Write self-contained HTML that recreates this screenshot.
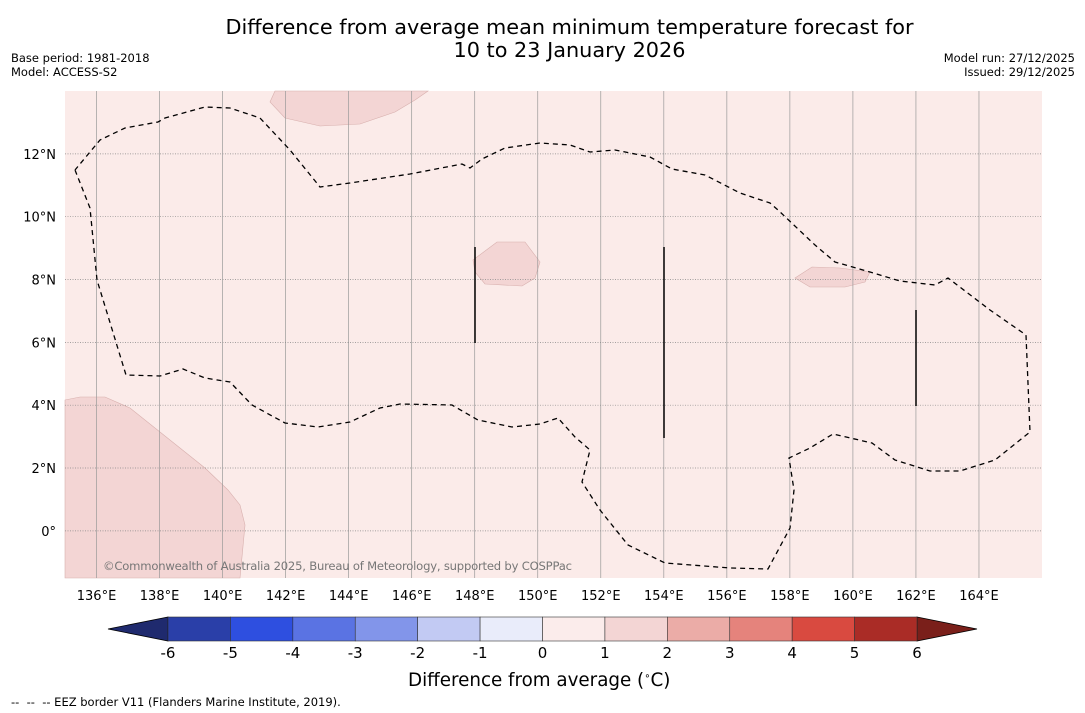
<!DOCTYPE html>
<html><head><meta charset="utf-8"><style>
body{margin:0;width:1085px;height:713px;background:#fff;font-family:"DejaVu Sans","Liberation Sans",sans-serif;overflow:hidden;position:relative}
.t{position:absolute;white-space:nowrap}
</style></head><body>
<div class="t" style="left:0;width:1139px;top:16px;text-align:center;font-size:20.8px;line-height:23px">Difference from average mean minimum temperature forecast for<br>10 to 23 January 2026</div>
<div class="t" style="left:11px;top:51px;font-size:11.5px;line-height:14px">Base period: 1981-2018<br>Model: ACCESS-S2</div>
<div class="t" style="right:10px;top:51px;font-size:11.5px;line-height:14px;text-align:right">Model run: 27/12/2025<br>Issued: 29/12/2025</div>
<svg id="s" width="1085" height="713" style="position:absolute;left:0;top:0"></svg>
<div class="t" style="left:408px;top:670px;font-size:18.3px">Difference from average (<sup style="font-size:10px">∘</sup>C)</div>
<div class="t" style="left:11px;top:695px;font-size:11.5px">-- &nbsp;-- &nbsp;-- EEZ border V11 (Flanders Marine Institute, 2019).</div>
<script>
const lonTicks=[136,138,140,142,144,146,148,150,152,154,156,158,160,162,164];
const latTicks=[0,2,4,6,8,10,12];
const cbBounds=[-6,-5,-4,-3,-2,-1,0,1,2,3,4,5,6];
const cbColors=["#2a3fa8","#2e4fe0","#5a73e3","#8295ea","#c2caf3","#e9ecfa","#fbeceb","#f3d5d4","#ebaca7","#e5837c","#d94a40","#aa2c26"];
const eez=[[75,170],[90,208],[97,280],[126,375],[160,376],[183,369],[205,378],[230,382],[252,405],[285,423],[318,427],[350,422],[380,408],[400,404],[452,405],[478,420],[512,427],[540,424],[558,418],[575,437],[590,450],[582,482],[600,510],[628,545],[665,563],[730,568],[768,569],[790,528],[794,490],[789,458],[810,448],[833,434],[872,443],[895,460],[930,471],[960,471],[995,460],[1030,432],[1026,335],[990,310],[948,278],[935,285],[900,281],[870,272],[835,262],[815,245],[778,210],[770,203],[740,193],[705,175],[672,169],[650,157],[615,150],[590,152],[570,145],[540,143],[505,148],[482,159],[470,168],[462,164],[410,174],[350,183],[320,187],[290,150],[260,118],[230,108],[205,107],[165,118],[158,122],[125,128],[100,140],[75,170]];
const patches=[
[[275,91],[270,102],[285,118],[320,126],[360,124],[395,112],[415,100],[428,91]],
[[65,400],[80,397],[105,397],[130,408],[170,440],[205,468],[228,490],[240,505],[245,525],[240,578],[65,578]],
[[473,260],[497,242],[525,242],[540,262],[535,278],[522,286],[485,284],[475,272]],
[[795,278],[812,267],[840,268],[870,272],[865,282],[845,287],[810,287]]];
const X0=65,X1=1042,Y0=91,Y1=578;
const xs=l=>X0+(l-135)/31*(X1-X0);
const ys=l=>Y0+(14-l)/15.5*(Y1-Y0);
const s=document.getElementById('s');const NS="http://www.w3.org/2000/svg";
function e(t,a,p){const n=document.createElementNS(NS,t);for(const k in a)n.setAttribute(k,a[k]);(p||s).appendChild(n);return n}
let r=e('rect',{x:X0,y:Y0,width:X1-X0,height:Y1-Y0,fill:'#fbebe9'});

patches.forEach(p=>{const q=e('polygon',{points:p.map(a=>a.join(',')).join(' '),fill:'#f3d5d4',stroke:'#d8b0ae','stroke-width':0.6});
});
lonTicks.forEach(l=>{const x=xs(l);
const g=e('line',{x1:x,x2:x,y1:Y0,y2:Y1,stroke:'#999','stroke-width':0.7});

const t=e('text',{x:x,y:600,'text-anchor':'middle','font-size':13,'font-family':'DejaVu Sans,sans-serif'});t.textContent=l+'°E';
});
latTicks.forEach(l=>{const y=ys(l);
const g=e('line',{x1:X0,x2:X1,y1:y,y2:y,stroke:'#888','stroke-width':0.7,'stroke-dasharray':'1,1.5'});

const t=e('text',{x:56,y:y+5,'text-anchor':'end','font-size':13,'font-family':'DejaVu Sans,sans-serif'});t.textContent=l===0?'0°':l+'°N';
});
let pl=e('polyline',{points:eez.map(a=>a.join(',')).join(' '),fill:'none',stroke:'#000','stroke-width':1.3,'stroke-dasharray':'5,4'});

[[475,247,343],[664,247,438],[916,310,406]].forEach(v=>{const l=e('line',{x1:v[0],x2:v[0],y1:v[1],y2:v[2],stroke:'#000','stroke-width':1.5});
});
let c=e('text',{x:103,y:570,'font-size':11.6,fill:'#777','font-family':'DejaVu Sans,sans-serif',textLength:469});c.textContent='©Commonwealth of Australia 2025, Bureau of Meteorology, supported by COSPPac';

const CX0=168,CX1=917,CY=617,CH=24;
const cx=v=>CX0+(v+6)/12*(CX1-CX0);
let lt=e('polygon',{points:`${CX0},${CY} ${108},${CY+CH/2} ${CX0},${CY+CH}`,fill:'#1f2a6e',stroke:'#000','stroke-width':0.8});

let rt=e('polygon',{points:`${CX1},${CY} ${977},${CY+CH/2} ${CX1},${CY+CH}`,fill:'#7a1f1a',stroke:'#000','stroke-width':0.8});

cbColors.forEach((col,i)=>{const x=cx(cbBounds[i]);const b=e('rect',{x:x,y:CY,width:cx(cbBounds[i+1])-x,height:CH,fill:col,stroke:'#333','stroke-width':0.6});
});
cbBounds.forEach(v=>{const t=e('text',{x:cx(v),y:658,'text-anchor':'middle','font-size':15,'font-family':'DejaVu Sans,sans-serif'});t.textContent=v;
});
</script>
</body></html>
